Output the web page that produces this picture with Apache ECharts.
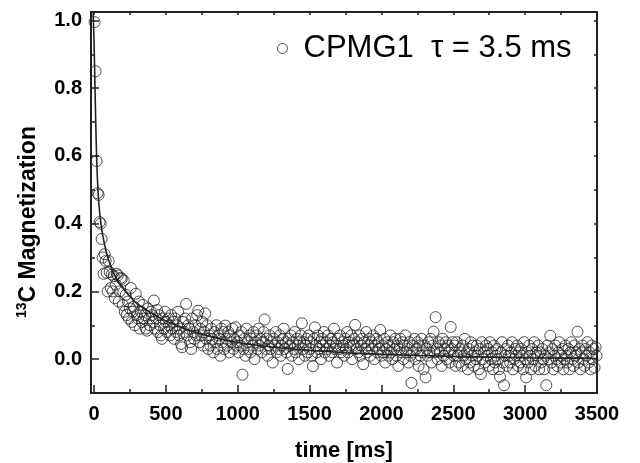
<!DOCTYPE html>
<html>
<head>
<meta charset="utf-8">
<script src="https://cdn.jsdelivr.net/npm/echarts@6/dist/echarts.min.js"></script>
<style>html,body{margin:0;padding:0;background:#fff}#c{width:640px;height:463px}</style>
</head>
<body>
<div id="c"></div>
<script>
// Sampling: echo spacing
var T0 = 4;      // first echo time (ms)
var DT = 7;      // echo spacing (ms)
var magnetization = [
0.995,0.85,0.585,0.49,0.485,0.405,0.40,0.355,0.30,0.252,
0.31,0.29,0.255,0.20,0.29,0.257,0.21,0.25,0.20,0.245,
0.18,0.22,0.252,0.247,0.17,0.20,0.24,0.237,0.16,0.232,
0.14,0.19,0.13,0.17,0.12,0.15,0.21,0.11,0.14,0.155,
0.10,0.193,0.13,0.12,0.17,0.09,0.14,0.11,0.16,0.12,
0.13,0.09,0.084,0.15,0.12,0.10,0.14,0.13,0.11,0.173,
0.09,0.12,0.145,0.08,0.13,0.10,0.07,0.06,0.12,0.09,
0.14,0.11,0.08,0.12,0.10,0.07,0.13,0.09,0.11,0.06,
0.12,0.08,0.10,0.14,0.07,0.09,0.045,0.035,0.11,0.08,
0.12,0.163,0.07,0.10,0.09,0.05,0.03,0.12,0.08,0.06,
0.10,0.07,0.13,0.143,0.05,0.09,0.07,0.11,0.04,0.08,
0.135,0.06,0.10,0.03,0.07,0.04,0.09,0.06,0.02,0.08,
0.05,0.10,0.03,0.07,0.06,0.01,0.09,0.05,0.08,0.03,
0.099,0.06,0.04,0.08,0.02,0.07,0.05,0.09,0.03,0.06,
0.094,0.04,0.05,0.02,0.07,0.04,0.08,-0.046,0.03,0.06,
0.01,0.09,0.05,0.03,0.07,0.02,0.06,0.04,0.08,0.00,
0.05,0.07,0.03,0.09,0.04,0.06,0.02,0.05,0.08,0.117,
0.03,0.06,0.01,0.04,0.07,0.03,0.05,-0.01,0.06,0.04,
0.08,0.02,0.05,0.03,0.07,0.01,0.04,0.06,0.09,0.03,
0.05,0.02,-0.029,0.06,0.04,0.07,0.01,0.05,0.03,0.08,
0.02,0.06,0.04,0.00,0.05,0.07,0.106,0.03,0.05,0.01,
0.04,0.06,0.02,0.07,0.03,0.05,0.01,-0.021,0.06,0.094,
0.04,0.02,0.07,0.03,0.05,0.00,0.06,0.04,0.08,0.02,
0.05,0.03,0.07,0.01,0.04,0.06,0.02,0.05,0.09,0.03,
0.04,-0.01,0.06,0.03,0.07,0.02,0.05,0.04,0.01,0.06,
0.03,0.08,0.02,0.05,0.04,0.07,0.00,0.04,0.06,0.101,
0.03,0.05,0.02,0.07,0.01,0.04,0.06,-0.015,0.05,0.03,
0.08,0.02,0.04,0.06,0.01,0.05,0.03,0.07,0.00,0.04,
0.06,0.02,0.05,0.03,0.086,0.01,0.04,0.02,0.06,-0.01,
0.03,0.05,0.01,0.04,0.07,0.02,0.00,0.05,0.03,0.06,
0.01,0.04,-0.02,0.03,0.06,0.02,0.05,0.00,0.04,0.07,
0.02,0.03,-0.01,0.05,0.01,-0.07,0.04,0.02,0.06,0.00,
0.03,0.05,-0.02,0.04,0.01,0.06,0.02,-0.03,0.04,-0.054,
0.03,0.01,0.05,0.02,0.06,-0.01,0.04,0.081,0.02,0.124,
0.03,0.00,0.05,0.02,0.04,-0.02,0.06,0.01,0.03,0.05,
0.00,0.04,0.02,-0.01,0.095,0.03,0.05,0.01,0.04,-0.02,
0.05,0.01,-0.01,0.03,0.02,-0.02,0.04,0.01,0.06,0.00,
0.02,-0.03,0.03,-0.01,0.05,0.01,0.04,-0.02,0.02,0.00,
0.04,0.01,-0.03,0.03,-0.044,0.05,0.00,0.02,-0.01,0.04,
0.01,0.03,-0.02,0.05,0.00,0.02,-0.03,0.04,-0.01,0.01,
0.03,0.00,-0.03,-0.052,0.02,0.05,-0.01,-0.077,0.01,0.03,
-0.02,0.04,0.01,-0.01,0.02,0.05,-0.03,0.00,0.03,0.01,
0.04,-0.02,0.02,-0.01,0.03,0.01,-0.03,0.05,0.00,-0.054,
0.02,-0.01,0.04,0.01,-0.03,0.03,0.00,0.05,-0.02,0.02,
0.01,0.04,-0.03,0.02,-0.01,0.03,0.00,-0.03,0.01,-0.077,
0.04,0.00,0.02,0.069,-0.01,0.03,-0.03,0.01,0.04,0.00,
-0.02,0.02,0.05,-0.01,0.01,0.03,-0.03,0.00,0.04,0.01,
-0.01,0.03,-0.03,0.02,0.05,0.00,-0.02,0.04,0.01,0.02,
0.081,-0.01,0.03,-0.03,0.02,0.04,0.00,-0.02,0.03,0.01,
0.05,-0.01,0.02,-0.03,0.04,0.00,0.03,-0.025,0.035,0.01
];
// Fitted curve
var fitT = [-6,0,7,14,21,30,40,55,75,100,130,165,200,250,300,360,430,500,600,700,800,1000,1250,1500,1750,2000,2500,3000,3500];
var fitV = [1.025,0.94,0.80,0.66,0.56,0.48,0.43,0.38,0.335,0.295,0.26,0.232,0.21,0.185,0.163,0.147,0.128,0.113,0.095,0.08,0.068,0.049,0.035,0.026,0.019,0.014,0.008,0.004,0.002];
var seriesName = 'CPMG1  \u03c4 = 3.5 ms';
var xLabels = [0,500,1000,1500,2000,2500,3000,3500];
var xMinor = [250,750,1250,1750,2250,2750,3250];
var xTop = [0,250,500,750,1000,1250,1500,1750,2000,2250,2500,2750,3000,3250,3500];
var yLabels = [0,0.2,0.4,0.6,0.8,1.0];
var yMinor = [0.1,0.3,0.5,0.7,0.9];
var yRight = [0,0.1,0.2,0.3,0.4,0.5,0.6,0.7,0.8,0.9,1.0];

var FONT = '"Liberation Sans", Arial, sans-serif';
var AX = '#222';
var XMIN = -21, XMAX = 3500, YMIN = -0.1, YMAX = 1.025;

var pts = magnetization.map(function (v, i) { return [T0 + DT * i, v]; });
var fit = fitT.map(function (t, i) { return [t, fitV[i]]; });

function xa(extra) {
  var base = { type: 'value', min: XMIN, max: XMAX, splitLine: { show: false },
    axisLine: { show: false, onZero: false }, axisLabel: { show: false }, axisTick: { show: false } };
  return Object.assign(base, extra);
}
function ya(extra) {
  var base = { type: 'value', min: YMIN, max: YMAX, splitLine: { show: false },
    axisLine: { show: false, onZero: false }, axisLabel: { show: false }, axisTick: { show: false } };
  return Object.assign(base, extra);
}

var chart = echarts.init(document.getElementById('c'), null, { renderer: 'canvas' });
chart.setOption({
  animation: false,
  backgroundColor: '#fff',
  grid: { left: 91, right: 43, top: 12, bottom: 70, containLabel: false, outerBoundsMode: 'none' },
  legend: {
    data: [seriesName],
    left: 277, top: 33, padding: 0,
    itemWidth: 10, itemHeight: 10,
    icon: 'circle',
    itemStyle: { color: 'rgba(0,0,0,0)', borderColor: '#222', borderWidth: 1 },
    textStyle: { fontFamily: FONT, fontSize: 31, color: '#000', padding: [0, 0, 0, 11] }
  },
  xAxis: [
    xa({ position: 'bottom',
      axisLine: { show: true, onZero: false, lineStyle: { color: AX, width: 2 } },
      axisTick: { show: true, inside: true, length: 8, customValues: xLabels, lineStyle: { color: AX, width: 1.5 } },
      axisLabel: { show: true, customValues: xLabels, margin: 11, fontFamily: FONT, fontSize: 20, fontWeight: 'bold', color: '#000',
        formatter: function (v) { return String(v); } },
      name: 'time [ms]', nameLocation: 'middle', nameGap: 47,
      nameTextStyle: { fontFamily: FONT, fontSize: 22, fontWeight: 'bold', color: '#000' } }),
    xa({ position: 'bottom',
      axisTick: { show: true, inside: true, length: 4, customValues: xMinor, lineStyle: { color: AX, width: 1.5 } } }),
    xa({ position: 'top',
      axisLine: { show: true, onZero: false, lineStyle: { color: AX, width: 2 } },
      axisTick: { show: true, inside: true, length: 3, customValues: xTop, lineStyle: { color: AX, width: 1.5 } } })
  ],
  yAxis: [
    ya({ position: 'left',
      axisLine: { show: true, onZero: false, lineStyle: { color: AX, width: 2 } },
      axisTick: { show: true, inside: true, length: 8, customValues: yLabels, lineStyle: { color: AX, width: 1.5 } },
      axisLabel: { show: true, customValues: yLabels, margin: 9, fontFamily: FONT, fontSize: 20, fontWeight: 'bold', color: '#000',
        formatter: function (v) { return v.toFixed(1); } } }),
    ya({ position: 'left',
      axisTick: { show: true, inside: true, length: 4, customValues: yMinor, lineStyle: { color: AX, width: 1.5 } } }),
    ya({ position: 'right',
      axisLine: { show: true, onZero: false, lineStyle: { color: AX, width: 2 } },
      axisTick: { show: true, inside: true, length: 3, customValues: yRight, lineStyle: { color: AX, width: 1.5 } } })
  ],
  graphic: [{
    type: 'text', x: 28, y: 222, rotation: Math.PI / 2,
    style: {
      text: '{s|13}{b|C Magnetization}',
      textAlign: 'center', textVerticalAlign: 'middle',
      rich: {
        s: { fontFamily: FONT, fontSize: 14, fontWeight: 'bold', fill: '#000', verticalAlign: 'top', lineHeight: 25 },
        b: { fontFamily: FONT, fontSize: 23, fontWeight: 'bold', fill: '#000', verticalAlign: 'bottom', lineHeight: 25 }
      }
    }
  }],
  series: [
    {
      name: seriesName, type: 'scatter', xAxisIndex: 0, yAxisIndex: 0,
      symbol: 'circle', symbolSize: 11,
      itemStyle: { color: 'rgba(0,0,0,0)', borderColor: '#222', borderWidth: 1 },
      data: pts, z: 3
    },
    {
      name: 'fit', type: 'line', xAxisIndex: 0, yAxisIndex: 0,
      showSymbol: false, smooth: 0.2, clip: true,
      lineStyle: { color: '#222', width: 1.6 },
      data: fit, z: 4
    }
  ]
});
</script>
</body>
</html>
